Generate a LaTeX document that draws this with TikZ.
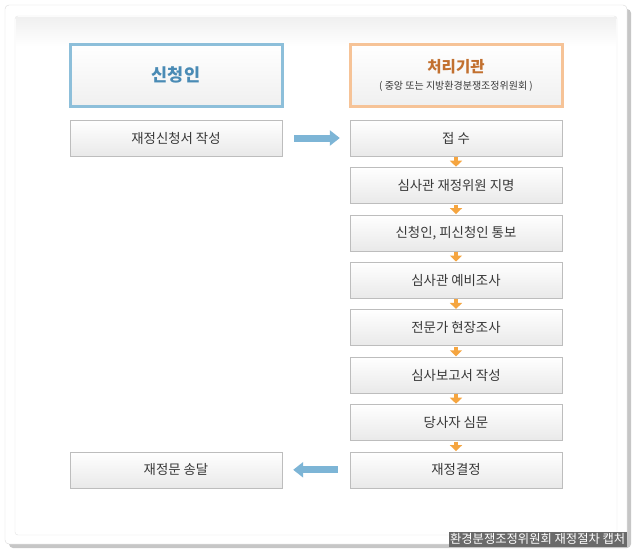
\documentclass[tikz,border=0pt]{standalone}
\usepackage{fontspec}
\setmainfont{Noto Sans CJK KR}
\usetikzlibrary{positioning}
\usetikzlibrary{arrows.meta}
\usetikzlibrary{shadows}
\definecolor{boxline}{HTML}{BDBDBD}
\definecolor{boxfill}{HTML}{E9E9E9}
\definecolor{blueline}{HTML}{8DBFDA}
\definecolor{bluetext}{HTML}{4A8BB5}
\definecolor{orangeline}{HTML}{F6C397}
\definecolor{orangetext}{HTML}{C2702F}
\definecolor{flowcolor}{HTML}{F5A540}
\definecolor{passcolor}{HTML}{7DB5D6}
\definecolor{captionbg}{HTML}{6A6A6A}
\tikzstyle{every node}=[font=\fontsize{13.4}{16}\selectfont, text=black!78]
\tikzstyle{task}=[draw=boxline, rectangle, top color=white, bottom color=boxfill,
                  minimum width=212pt, minimum height=36pt, inner sep=0pt]
\tikzstyle{head}=[task, line width=3pt, minimum height=62pt, bottom color=boxfill!70, align=center]
\tikzstyle{flow}=[flowcolor, line width=4.5pt, -{Triangle[width=12pt, length=6pt]},
                  shorten <=1pt, shorten >=0.5pt]
\tikzstyle{pass}=[passcolor, line width=7pt, -{Triangle[width=15pt, length=10pt]}]

\begin{document}
\begin{tikzpicture}[x=1pt, y=-1pt]
\useasboundingbox (0,0) rectangle (640,558);

% frame
\draw[gray!30, fill=white, rounded corners=4pt,
      drop shadow={shadow xshift=4pt, shadow yshift=-4pt, opacity=.45}] (5,5) rectangle (627,544);
\draw[gray!22, rounded corners=3pt] (15,16) rectangle (617,535);
\shade[top color=gray!12, bottom color=white] (16,17) rectangle (616,46);

% headers
\node[head, draw=blueline] (Applicant) at (176,75)
  {\fontsize{17.5}{20}\selectfont\bfseries\color{bluetext} 신청인};
\node[head, draw=orangeline] (Agency) at (456,75)
  {{\fontsize{15.5}{18}\selectfont\bfseries\color{orangetext} 처리기관}\\[1pt]
   {\fontsize{10}{12}\selectfont ( 중앙 또는 지방환경분쟁조정위원회 )}};

% applicant side
\node[task, below=12.3pt of Applicant] (Apply) { 재정신청서 작성 };

% agency side
\node[task, below=12.3pt of Agency] (Receive) { 접 수 };
\node[task, below=11pt of Receive] (Appoint) { 심사관 재정위원 지명 };
\node[task, below=11pt of Appoint] (Notify) { 신청인, 피신청인 통보 };
\node[task, below=11pt of Notify] (Prelim) { 심사관 예비조사 };
\node[task, below=11pt of Prelim] (Expert) { 전문가 현장조사 };
\node[task, below=11pt of Expert] (Report) { 심사보고서 작성 };
\node[task, below=11pt of Report] (Hearing) { 당사자 심문 };
\node[task, below=11pt of Hearing] (Decide) { 재정결정 };

\node[task, left=67.6pt of Decide] (Deliver) { 재정문 송달 };

\draw[pass] ([xshift=12pt] Apply.east) -- ([xshift=-10pt] Receive.west);
\draw[pass] ([xshift=-12pt] Decide.west) -- ([xshift=11pt] Deliver.east);

\draw[flow] (Receive.south) -- (Appoint.north);
\draw[flow] (Appoint.south) -- (Notify.north);
\draw[flow] (Notify.south) -- (Prelim.north);
\draw[flow] (Prelim.south) -- (Expert.north);
\draw[flow] (Expert.south) -- (Report.north);
\draw[flow] (Report.south) -- (Hearing.north);
\draw[flow] (Hearing.south) -- (Decide.north);

\node[fill=captionbg, text=white, anchor=south east, inner xsep=1.5pt, inner ysep=2pt,
      font=\fontsize{12.3}{13}\selectfont] (Caption) at (627,547)
  { 환경분쟁조정위원회 재정절차 캡처 };

\end{tikzpicture}
\end{document}
